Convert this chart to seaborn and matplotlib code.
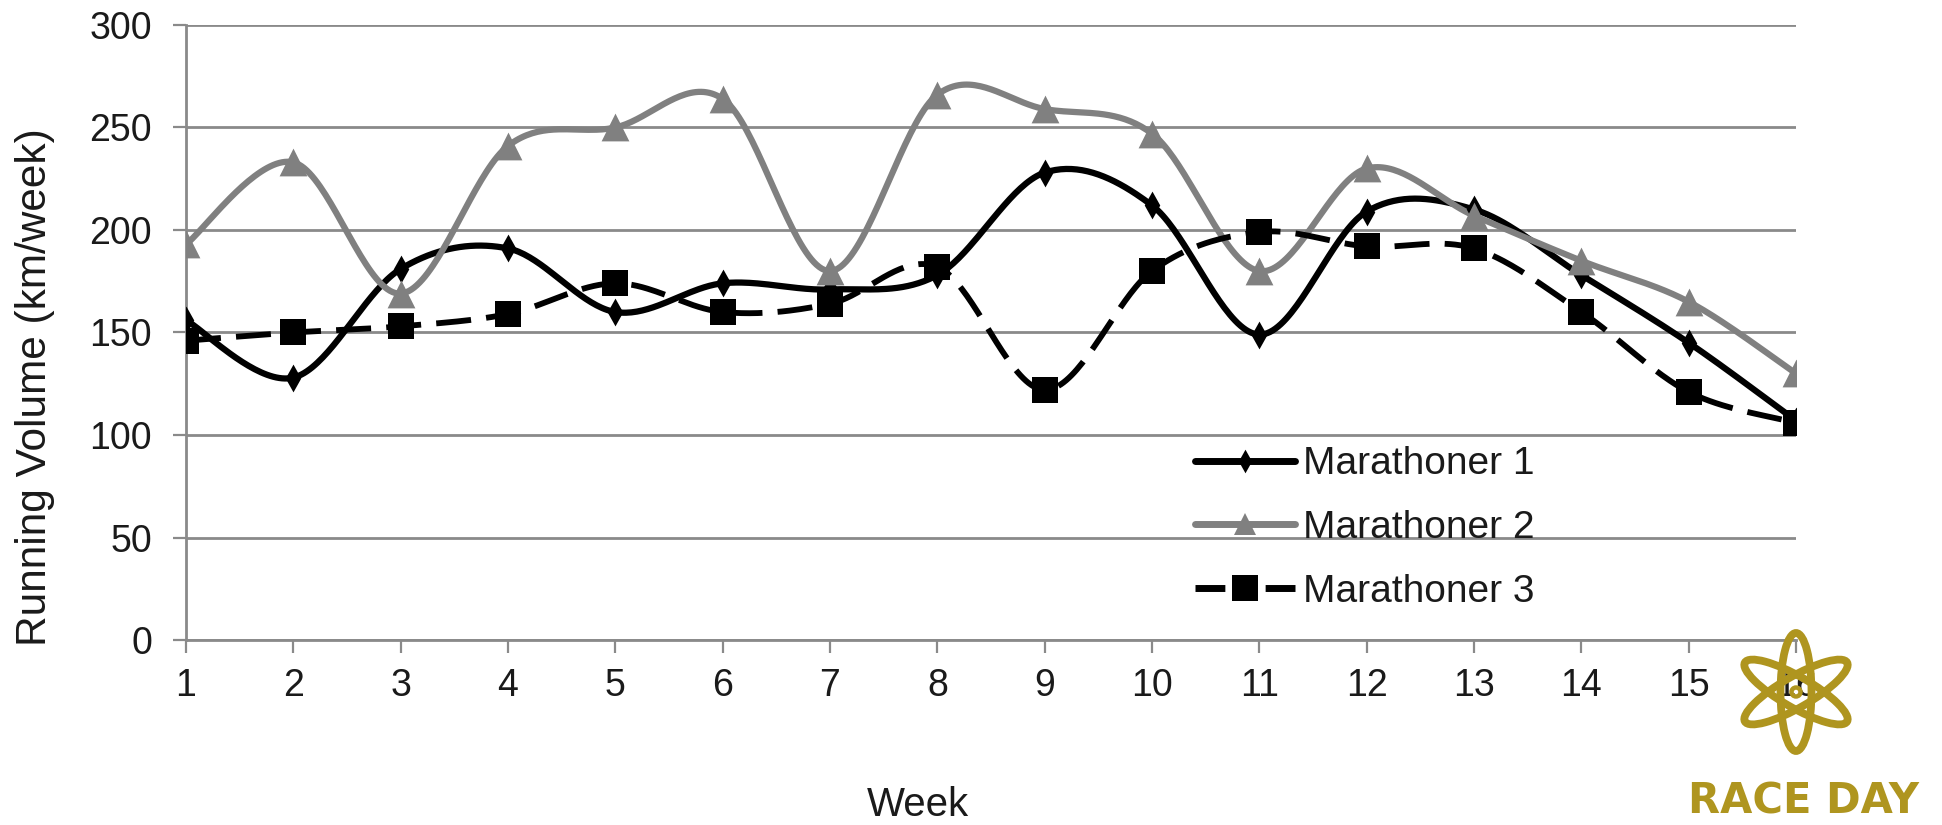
import numpy as np
import pandas as pd
import matplotlib
matplotlib.use("Agg")
import matplotlib.pyplot as plt
from matplotlib.lines import Line2D
from matplotlib.patches import Ellipse, Circle
from matplotlib.path import Path
from matplotlib.markers import MarkerStyle
import seaborn as sns

# ---------------- data ----------------
weeks = list(range(1, 17))
marathoner1 = [156, 128, 181, 191, 160, 174, 171, 178, 228, 212, 149, 209, 210, 178, 145, 107]
marathoner2 = [193, 233, 169, 241, 250, 264, 180, 266, 259, 247, 180, 230, 207, 185, 165, 130]
marathoner3 = [146, 150, 153, 159, 174, 160, 164, 182, 122, 180, 199, 192, 191, 160, 121, 106]
series_names = ["Marathoner 1", "Marathoner 2", "Marathoner 3"]
y_ticks = [0, 50, 100, 150, 200, 250, 300]

sns.set_theme(style="white")
plt.rcParams["font.family"] = ["Liberation Sans", "DejaVu Sans"]

W, H, DPI = 1942, 825, 100
fig = plt.figure(figsize=(W / DPI, H / DPI), dpi=DPI)
ax = fig.add_axes([186 / W, 1 - 640 / H, (1796 - 186) / W, (640 - 25) / H])


def smooth(xs, ys, n=40):
    """Excel-like smoothed line (Catmull-Rom Bezier through the points)."""
    P = np.column_stack([xs, ys]).astype(float)
    out = []
    for i in range(len(P) - 1):
        p0 = P[max(i - 1, 0)]
        p1 = P[i]
        p2 = P[i + 1]
        p3 = P[min(i + 2, len(P) - 1)]
        c1 = p1 + (p2 - p0) / 6.0
        c2 = p2 - (p3 - p1) / 6.0
        t = np.linspace(0, 1, n, endpoint=(i == len(P) - 2))[:, None]
        b = ((1 - t) ** 3) * p1 + 3 * ((1 - t) ** 2) * t * c1 + 3 * (1 - t) * t ** 2 * c2 + t ** 3 * p2
        out.append(b)
    return np.vstack(out)


diamond = MarkerStyle(Path([(0, 1), (0.56, 0), (0, -1), (-0.56, 0), (0, 1)], closed=True))

values = [marathoner1, marathoner2, marathoner3]
colors = {"Marathoner 1": "#000000", "Marathoner 2": "#808080", "Marathoner 3": "#000000"}
markers = {"Marathoner 1": diamond, "Marathoner 2": "^", "Marathoner 3": "s"}
msizes = {"Marathoner 1": 20, "Marathoner 2": 20, "Marathoner 3": 19}
leg_msizes = {"Marathoner 1": 17, "Marathoner 2": 16, "Marathoner 3": 19}
dashes = {"Marathoner 1": None, "Marathoner 2": None, "Marathoner 3": (6, 2.6)}
lws = {"Marathoner 1": 4.5, "Marathoner 2": 4.5, "Marathoner 3": 4.2}

for k, (name, vals) in enumerate(zip(series_names, values)):
    c = smooth(weeks, vals)
    df_c = pd.DataFrame({"x": c[:, 0], "y": c[:, 1]})
    sns.lineplot(data=df_c, x="x", y="y", ax=ax, sort=False, estimator=None,
                 color=colors[name], lw=lws[name], zorder=3 + k)
    line = ax.lines[-1]
    if dashes[name] is not None:
        line.set_dashes(dashes[name])
    df_p = pd.DataFrame({"x": weeks, "y": vals})
    sns.scatterplot(data=df_p, x="x", y="y", ax=ax, marker=markers[name],
                    s=msizes[name] ** 2, color=colors[name], linewidth=0, zorder=6 + k)

ax.set_xlim(1, 16)
ax.set_ylim(0, 300)
ax.set_xticks(weeks)
ax.set_xticklabels([str(w) for w in weeks])
ax.set_yticks(y_ticks)
ax.set_yticklabels([str(v) for v in y_ticks])
ax.set_xlabel("")
ax.set_ylabel("")

grid_c = "#8a8a8a"
ax.yaxis.grid(True, color=grid_c, lw=2.0)
ax.xaxis.grid(False)
ax.set_axisbelow(True)
for s in ["top", "right"]:
    ax.spines[s].set_visible(False)
for s in ["left", "bottom"]:
    ax.spines[s].set_color(grid_c)
    ax.spines[s].set_linewidth(2.0)
ax.tick_params(axis="both", which="major", direction="out", length=9.5, width=1.6,
               color=grid_c, labelsize=27, labelcolor="#1a1a1a")
ax.tick_params(axis="y", pad=15)
ax.tick_params(axis="x", pad=11)
ax.tick_params(left=True, bottom=True)

# legend
handles = []
for n in series_names:
    ls = "-" if dashes[n] is None else (0, (4.3, 5.8))
    handles.append(Line2D([0], [0], color=colors[n], lw=5.0, marker=markers[n],
                          markersize=leg_msizes[n], markeredgewidth=0, linestyle=ls))
leg = ax.legend(handles, series_names, loc="center left",
                bbox_to_anchor=(1195 / W, 1 - 528 / H), bbox_transform=fig.transFigure,
                frameon=False, fontsize=28, handlelength=2.57, handletextpad=0.2,
                labelspacing=0.71, borderaxespad=0, borderpad=0)
for t in leg.get_texts():
    t.set_color("#1a1a1a")

# axis titles
fig.text(35 / W, 1 - 387 / H, "Running Volume (km/week)", rotation=90, ha="center",
         va="center", fontsize=30.5, color="#1a1a1a")
fig.text(918 / W, 1 - 805 / H, "Week", ha="center", va="center", fontsize=29, color="#1a1a1a")

# RACE DAY logo
gold = "#AF951F"
cx, cy = 17.96, (H - 692) / DPI
for ang in [90, 30, -30]:
    fig.patches.append(Ellipse((cx, cy), 1.18, 0.31, angle=ang, fill=False, ec=gold, lw=5.6,
                               transform=fig.dpi_scale_trans, figure=fig, zorder=10))
fig.patches.append(Circle((cx, cy), 0.045, fill=False, ec=gold, lw=3.2,
                          transform=fig.dpi_scale_trans, figure=fig, zorder=10))
fig.text(1804 / W, 2 / H, "RACE DAY", ha="center", va="bottom", fontsize=30,
         fontweight="bold", family=["DejaVu Sans"], color=gold)

fig.savefig("out.png", dpi=DPI, facecolor="white")
